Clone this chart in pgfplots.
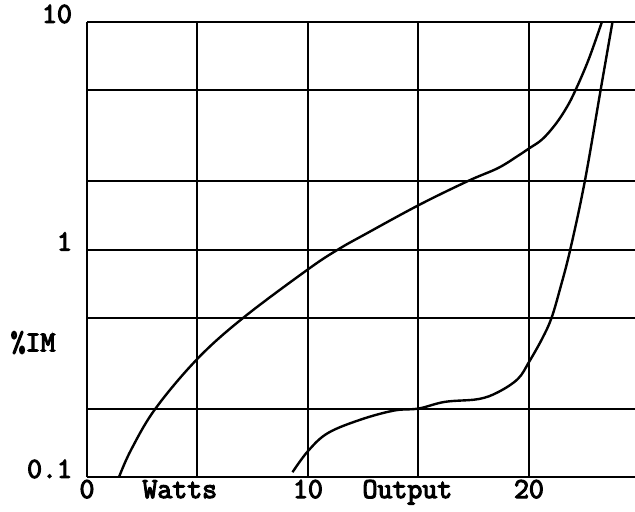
\documentclass[border=0pt]{standalone}
\usepackage{fontspec}
\newfontfamily\tw{Latin Modern Mono}[FakeBold=4]
\usepackage{pgfplots}
\pgfplotsset{compat=1.18}
\begin{document}
\begin{tikzpicture}
\useasboundingbox (-43.5pt,-17pt) rectangle (274pt,238.5pt);
\begin{axis}[
  anchor=south west, at={(0pt,0pt)},
  scale only axis, width=274pt, height=227.5pt,
  xmin=0, xmax=24.8, ymode=log, ymin=0.1, ymax=10,
  axis x line*=bottom, axis y line*=left,
  axis line style={line width=1pt, -},
  xtick={0,5,10,15,20}, xticklabels={0,,10,,20},
  ytick={0.1,0.2,0.5,1,2,5,10}, yticklabels={0.1,,,1,,,10},
  log ticks with fixed point,
  major tick length=0pt,
  grid=major, major grid style={black, line width=1pt},
  /pgf/number format/assume math mode=true,
  ticklabel style={font=\tw\fontsize{14.5}{16}\selectfont},
  yticklabel style={xshift=-4pt, yshift=4pt},
  xticklabel style={anchor=base, yshift=-10.5pt},
  clip mode=individual,
]
\addplot[black, line width=1.2pt, smooth, tension=0.6] coordinates {
(1.45,0.1) (2.0,0.132) (3.1,0.2) (5,0.331) (7.06,0.5) (10,0.818) (11.36,1.0)
(12.58,1.166) (15,1.565) (17.24,2.0) (18.6,2.28) (19.5,2.58) (20,2.78)
(20.6,3.05) (21.2,3.55) (21.7,4.2) (22.1,5.0) (22.7,6.84) (23.3,10)
};
\addplot[black, line width=1.2pt, smooth, tension=0.6] coordinates {
(9.3,0.105) (10,0.13) (10.9,0.156) (12.4,0.179) (13.9,0.196) (15,0.2)
(16.2,0.214) (17.7,0.22) (18.6,0.236) (19.5,0.27) (20.0,0.32) (20.6,0.406)
(21.02,0.5) (21.42,0.678) (21.87,1.0) (22.53,2.0) (23.24,5.0) (23.78,10)
};
\node[font=\tw\fontsize{14.5}{16}\selectfont, anchor=base] at (axis cs:4.2,0.1) [yshift=-10.5pt] {Watts};
\node[font=\tw\fontsize{14.5}{16}\selectfont, anchor=base] at (axis cs:14.5,0.1) [yshift=-10.5pt] {Output};
\node[font=\tw\fontsize{14.5}{16}\selectfont] at (axis cs:0,0.39) [xshift=-27pt] {\%IM};
\end{axis}
\end{tikzpicture}
\end{document}
